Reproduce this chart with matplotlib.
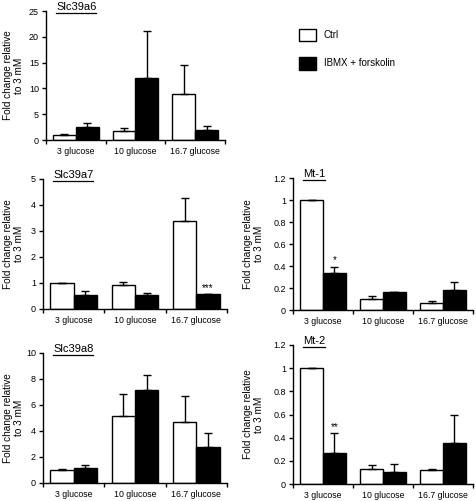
import numpy as np
import matplotlib
matplotlib.use("Agg")
from matplotlib import pyplot as plt
from matplotlib.patches import Patch
from matplotlib.lines import Line2D

plt.rcParams['font.family'] = ['Liberation Sans', 'DejaVu Sans']

"""Data read off the reference figure"""
groups = ["3 glucose", "10 glucose", "16.7 glucose"]
series = ["Ctrl", "IBMX + forskolin"]

slc39a6_ctrl = [1.0, 1.7, 8.9]
slc39a6_ctrl_err = [0.1, 0.55, 5.6]
slc39a6_ibmx = [2.55, 12.1, 2.0]
slc39a6_ibmx_err = [0.8, 9.1, 0.8]

slc39a7_ctrl = [1.0, 0.91, 3.4]
slc39a7_ctrl_err = [0.0, 0.14, 0.88]
slc39a7_ibmx = [0.53, 0.54, 0.56]
slc39a7_ibmx_err = [0.15, 0.07, 0.02]

slc39a8_ctrl = [1.03, 5.13, 4.72]
slc39a8_ctrl_err = [0.05, 1.75, 1.95]
slc39a8_ibmx = [1.15, 7.13, 2.77]
slc39a8_ibmx_err = [0.2, 1.2, 1.08]

mt1_ctrl = [1.0, 0.097, 0.064]
mt1_ctrl_err = [0.003, 0.03, 0.015]
mt1_ibmx = [0.334, 0.161, 0.18]
mt1_ibmx_err = [0.06, 0.0, 0.078]

mt2_ctrl = [1.0, 0.127, 0.118]
mt2_ctrl_err = [0.003, 0.037, 0.008]
mt2_ibmx = [0.27, 0.106, 0.351]
mt2_ibmx_err = [0.167, 0.067, 0.245]

"""Panel layout in pixels: left, right, bottom, top; lx = right edge of y label"""
W, H = 477, 501
panels = [
    dict(title="Slc39a6", box=(46, 225, 140, 11), lx=24, ctrl=slc39a6_ctrl, ce=slc39a6_ctrl_err,
         ibmx=slc39a6_ibmx, ie=slc39a6_ibmx_err, ymax=25, step=5, star=None),
    dict(title="Slc39a7", box=(43, 227, 309, 179), lx=24, ctrl=slc39a7_ctrl, ce=slc39a7_ctrl_err,
         ibmx=slc39a7_ibmx, ie=slc39a7_ibmx_err, ymax=5, step=1, star=(2, "***")),
    dict(title="Slc39a8", box=(43, 227, 483, 353), lx=24, ctrl=slc39a8_ctrl, ce=slc39a8_ctrl_err,
         ibmx=slc39a8_ibmx, ie=slc39a8_ibmx_err, ymax=10, step=2, star=None),
    dict(title="Mt-1", box=(293, 473, 310, 178), lx=264, ctrl=mt1_ctrl, ce=mt1_ctrl_err,
         ibmx=mt1_ibmx, ie=mt1_ibmx_err, ymax=1.2, step=0.2, star=(0, "*")),
    dict(title="Mt-2", box=(293, 473, 484, 345), lx=264, ctrl=mt2_ctrl, ce=mt2_ctrl_err,
         ibmx=mt2_ibmx, ie=mt2_ibmx_err, ymax=1.2, step=0.2, star=(0, "**")),
]

fig = plt.figure(figsize=(W / 100, H / 100), dpi=100)

x = np.arange(len(groups))
bw = 0.38
ekw = dict(ecolor="black", elinewidth=1, capsize=3, capthick=1)
titles = []

for p in panels:
    l, r, b, t = p["box"]
    ax = fig.add_axes([l / W, 1 - b / H, (r - l) / W, (b - t) / H])

    zeros = np.zeros(len(groups))
    ax.bar(x - bw / 2, p["ctrl"], bw, color="white", edgecolor="black", linewidth=1,
           yerr=[zeros, p["ce"]], error_kw=ekw)
    ax.bar(x + bw / 2, p["ibmx"], bw, color="black", edgecolor="black", linewidth=1,
           yerr=[zeros, p["ie"]], error_kw=ekw)

    ax.set_xlim(-0.5, 2.5)
    ax.set_ylim(0, p["ymax"])
    yt = np.arange(0, p["ymax"] + p["step"] / 2, p["step"])
    ax.set_yticks(yt)
    ax.set_yticklabels(["{:g}".format(round(v, 1)) for v in yt], fontsize=6.5)

    ax.set_xticks([-0.5, 0.5, 1.5, 2.5])
    ax.set_xticklabels([])
    ax.set_xticks(x, minor=True)
    ax.set_xticklabels(groups, minor=True, fontsize=6.3)
    ax.tick_params(axis="x", which="minor", length=0, pad=5)
    ax.tick_params(axis="both", which="major", length=3, width=1, direction="out", pad=2)

    for s in ["top", "right"]:
        ax.spines[s].set_visible(False)
    for s in ["left", "bottom"]:
        ax.spines[s].set_linewidth(1)

    ax.set_ylabel("Fold change relative\nto 3 mM", fontsize=7.2, linespacing=1.1)
    ax.yaxis.set_label_coords(p["lx"] / W, 1 - ((b + t) / 2) / H, transform=fig.transFigure)

    # title sits just above the axes, underlined below
    tx = fig.text((l + 10) / W, 1 - (t - 1) / H, p["title"], fontsize=8, ha="left", va="baseline")
    titles.append((tx, t))

    if p["star"] is not None:
        i, s = p["star"]
        ax.text(x[i] + bw / 2, p["ibmx"][i] + p["ie"][i] + p["ymax"] * 0.01, s,
                ha="center", va="bottom", fontsize=7)

fig.canvas.draw()
for tx, t in titles:
    bb = tx.get_window_extent()
    yy = 1 - (t + 1.5) / H
    fig.add_artist(Line2D([bb.x0 / W, bb.x1 / W], [yy, yy],
                          transform=fig.transFigure, color="black", linewidth=0.9))

handles = [Patch(facecolor="white", edgecolor="black", linewidth=1),
           Patch(facecolor="black", edgecolor="black", linewidth=1)]
fig.legend(handles, series, loc="upper left", bbox_to_anchor=(299 / W, 1 - 29 / H),
           frameon=False, fontsize=7, handlelength=1.75, handleheight=1.6,
           labelspacing=1.6, handletextpad=0.8, borderpad=0, borderaxespad=0)

fig.savefig("out.png", dpi=100)
